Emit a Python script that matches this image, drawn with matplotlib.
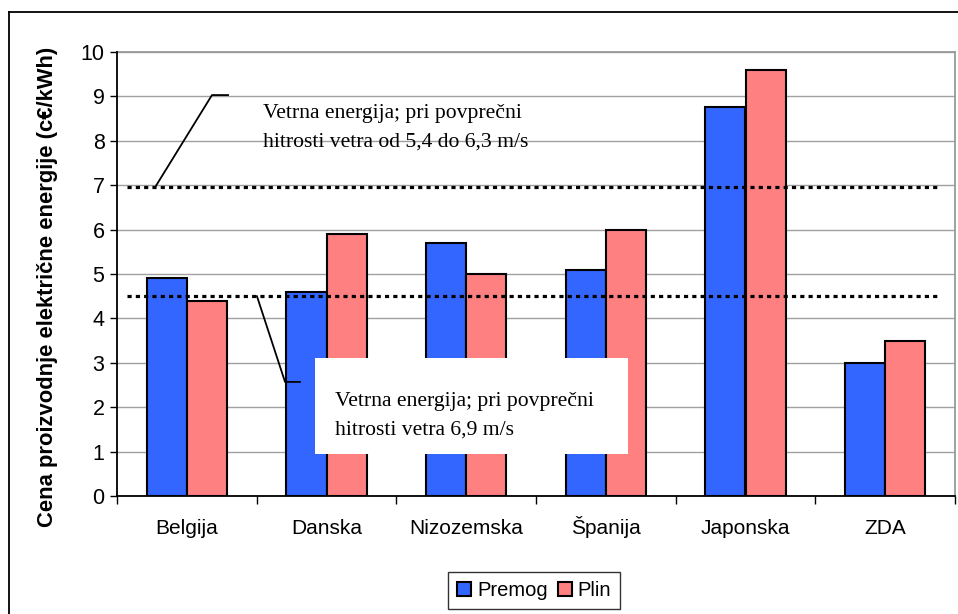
import matplotlib
matplotlib.use("Agg")
import matplotlib.pyplot as plt
from matplotlib.lines import Line2D
from matplotlib.patches import Rectangle
import numpy as np

# cene proizvodnje elektricne energije (c€/kWh)
drzave = ["Belgija", "Danska", "Nizozemska", "Španija", "Japonska", "ZDA"]
premog = [4.9, 4.6, 5.7, 5.1, 8.75, 3.0]
plin = [4.4, 5.9, 5.0, 6.0, 9.6, 3.5]
veter_nizja_hitrost = 6.95
veter_visja_hitrost = 4.5

sans = "Liberation Sans"
serif = "Liberation Serif"

fig = plt.figure(figsize=(9.58, 6.14), dpi=100)
fig.patch.set_facecolor("white")

# outer chart frame (left and top edges)
fig.add_artist(Line2D([9 / 958, 9 / 958], [0, 1 - 12 / 614], color="black", lw=1.3))
fig.add_artist(Line2D([9 / 958, 1], [1 - 12 / 614, 1 - 12 / 614], color="black", lw=1.3))

ax = fig.add_axes([117 / 958, 118 / 614, 838 / 958, 444 / 614])

x = np.arange(len(drzave))
w = 0.287
ax.bar(x - w / 2, premog, w, color="#3366ff", edgecolor="black", lw=1.5, label="Premog", zorder=3)
ax.bar(x + w / 2, plin, w, color="#ff8080", edgecolor="black", lw=1.5, label="Plin", zorder=3)

ax.set_xlim(-0.5, len(drzave) - 0.5)
ax.set_ylim(0, 10)
ax.set_yticks(range(11))
ax.set_yticklabels([str(v) for v in range(11)], fontsize=15.5, family=sans)
ax.set_xticks(x)
ax.set_xticklabels(drzave, fontsize=15, family=sans, va="baseline")
ax.tick_params(axis="x", length=0, pad=27)
ax.set_xticks(np.arange(-0.5, len(drzave)), minor=True)
ax.tick_params(axis="x", which="minor", length=6, width=1, direction="out")
ax.tick_params(axis="y", length=5, width=1, direction="out", pad=4)
ax.grid(axis="y", color="#a0a0a0", lw=1, zorder=0)

for s in ["top", "right"]:
    ax.spines[s].set_color("#999999")
    ax.spines[s].set_linewidth(1.3)
for s in ["left", "bottom"]:
    ax.spines[s].set_color("black")
    ax.spines[s].set_linewidth(1.3)
    ax.spines[s].set_zorder(5)

ax.set_ylabel("Cena proizvodnje električne energije (c€/kWh)", fontsize=15.8,
              fontweight="bold", family=sans)
ax.yaxis.set_label_coords(-0.070, 0.47)

# dotted reference lines for wind energy
for yv in [veter_nizja_hitrost, veter_visja_hitrost]:
    ax.plot([-0.428, 5.378], [yv, yv], color="black", lw=2.3,
            linestyle=(0, (1.3, 1.3)), solid_capstyle="butt",
            dash_capstyle="butt", zorder=4)

# upper annotation
ax.plot([-0.228, 0.18, 0.295], [veter_nizja_hitrost, 9.03, 9.03], color="black", lw=1.3, zorder=4)
ax.text(0.545, 8.29, "Vetrna energija; pri povprečni\nhitrosti vetra od 5,4 do 6,3 m/s",
        fontsize=15.6, family=serif, va="center", ha="left", linespacing=1.68, zorder=6)

# lower annotation with white box
ax.add_patch(Rectangle((0.918, 0.946), 3.159 - 0.918, 3.11 - 0.946,
                       facecolor="white", edgecolor="none", zorder=5))
ax.plot([0.502, 0.703, 0.81], [veter_visja_hitrost, 2.57, 2.57], color="black", lw=1.3, zorder=4)
ax.text(1.06, 1.80, "Vetrna energija; pri povprečni\nhitrosti vetra 6,9 m/s",
        fontsize=15.6, family=serif, va="center", ha="left", linespacing=1.68, zorder=6)

leg = fig.legend(loc="upper center", bbox_to_anchor=(534 / 958, 1 - 572 / 614),
                 ncol=2, frameon=True, fancybox=False, edgecolor="black",
                 prop={"family": sans, "size": 14.5}, handlelength=0.7, handleheight=0.7,
                 handletextpad=0.3, columnspacing=0.5, borderpad=0.45, borderaxespad=0)
leg.get_frame().set_linewidth(1)

fig.savefig("out.png", dpi=100, facecolor="white")
